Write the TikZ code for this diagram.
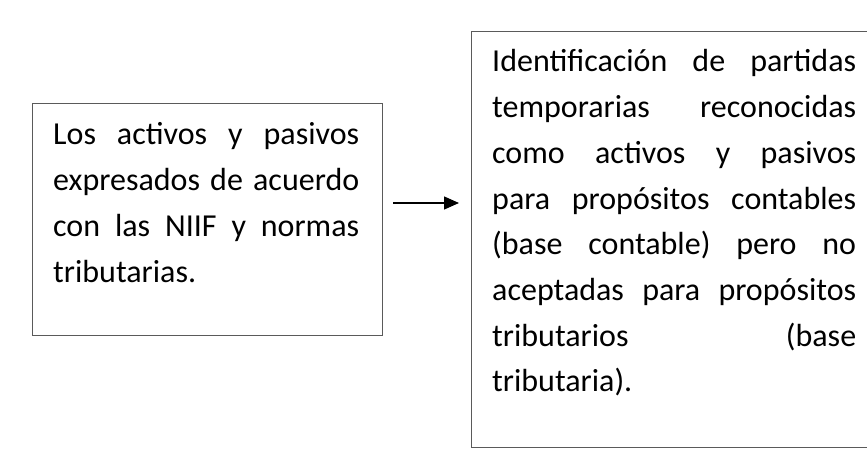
\documentclass[tikz,border=0pt]{standalone}
\usepackage{fontspec}
\setmainfont{Carlito}
\usetikzlibrary{arrows.meta}
\definecolor{boxgray}{HTML}{5A5A5A}
\newcommand{\jl}[2]{{\spaceskip=0pt\xspaceskip=0pt\makebox[#1][s]{#2}}}
\begin{document}
\begin{tikzpicture}[x=1pt,y=-1pt,
  boxstyle/.style={draw=boxgray, line width=1.4pt, inner sep=0pt, anchor=north west},
  txt/.style={anchor=base west, align=left, inner sep=0pt, text=black,
    font=\fontsize{32}{45.7}\selectfont},
  arrowline/.style={line width=1.3pt, -{Triangle[length=15pt,width=13pt]}}
]
\clip (0,0) rectangle (867,470);
\fill[white] (0,0) rectangle (867,470);
\node[boxstyle, minimum width=350pt, minimum height=232pt] (box1) at (32,103) {};
\node[boxstyle, minimum width=420pt, minimum height=416pt] (box2) at (471,31) {};
\node[txt, text width=306pt] (t1) at (53,145)
  {\jl{306pt}{Los activos y pasivos}\\
   \jl{306pt}{expresados de acuerdo}\\
   \jl{306pt}{con las NIIF y normas}\\
   tributarias.};
\node[txt, text width=364pt] (t2) at (492,72)
  {\jl{364pt}{Identificación de partidas}\\
   \jl{364pt}{temporarias reconocidas}\\
   \jl{364pt}{como activos y pasivos}\\
   \jl{364pt}{para propósitos contables}\\
   \jl{364pt}{(base contable) pero no}\\
   \jl{364pt}{aceptadas para propósitos}\\
   \jl{364pt}{tributarios (base}\\
   tributaria).};
\coordinate (ay) at (0,203);
\draw[arrowline, shorten <=10pt, shorten >=12pt] (box1.east |- ay) -- (box2.west |- ay);
\end{tikzpicture}
\end{document}
